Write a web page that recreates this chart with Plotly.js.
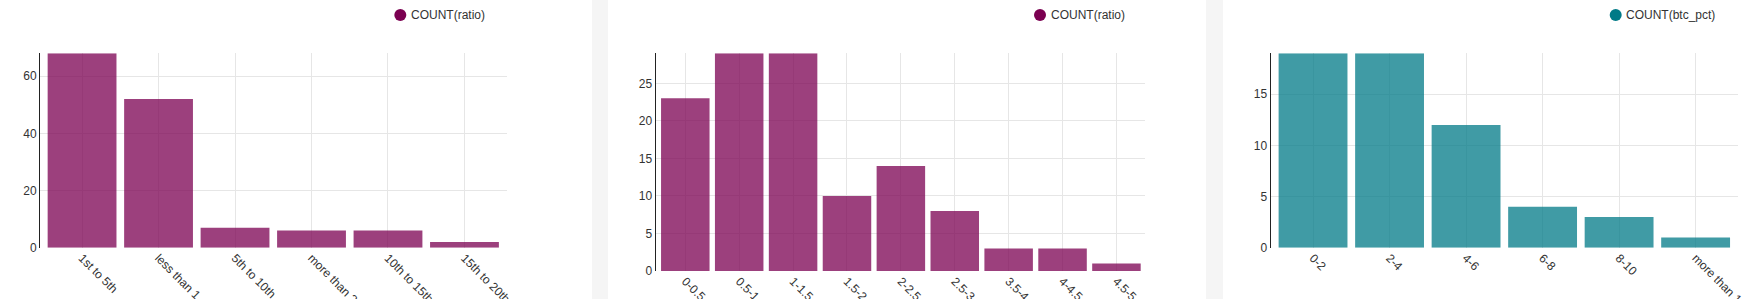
<!DOCTYPE html>
<html>
<head>
<meta charset="utf-8">
<script src="https://cdn.plot.ly/plotly-3.0.1.min.js"></script>
<style>
  html, body { margin: 0; padding: 0; background: #fff; }
  #chart { width: 1761px; height: 299px; }
</style>
</head>
<body>
<div id="chart"></div>
<script>
// Category labels and counts for the three histograms
const rankCategories = ["1st to 5th", "less than 1", "5th to 10th", "more than 2", "10th to 15th", "15th to 20th"];
const rankCounts = [68, 52, 7, 6, 6, 2];

const ratioCategories = ["0-0.5", "0.5-1", "1-1.5", "1.5-2", "2-2.5", "2.5-3", "3.5-4", "4-4.5", "4.5-5"];
const ratioCounts = [23, 29, 29, 10, 14, 8, 3, 3, 1];

const btcCategories = ["0-2", "2-4", "4-6", "6-8", "8-10", "more than 10"];
const btcCounts = [19, 19, 12, 4, 3, 1];

const seriesNames = ["COUNT(ratio)", "COUNT(ratio)", "COUNT(btc_pct)"];
const seriesColors = ["#7b0051", "#7b0051", "#007A87"];

const W = 1761, H = 299;
const px = v => v / W;          // horizontal pixel -> paper
const py = v => (H - v) / H;    // vertical pixel (from top) -> paper

const font = { family: "Liberation Sans, Arial, sans-serif", size: 12, color: "#333" };

function barTrace(cats, vals, color, xa, ya) {
  return {
    type: "bar", x: cats, y: vals, xaxis: xa, yaxis: ya,
    marker: { color: color, opacity: 0.75, line: { width: 0 } },
    showlegend: false, hoverinfo: "x+y"
  };
}

const data = [
  barTrace(rankCategories, rankCounts, seriesColors[0], "x", "y"),
  barTrace(ratioCategories, ratioCounts, seriesColors[1], "x2", "y2"),
  barTrace(btcCategories, btcCounts, seriesColors[2], "x3", "y3")
];

function xAxis(domain, range, anchor) {
  return {
    domain: domain, range: range, anchor: anchor, type: "category",
    showgrid: true, gridcolor: "#e6e6e6", gridwidth: 1,
    showline: false, zeroline: false, ticks: "",
    tickangle: 45, tickfont: font, fixedrange: true
  };
}
function yAxis(domain, range, dtick, anchor) {
  return {
    domain: domain, range: range, anchor: anchor, dtick: dtick,
    showgrid: true, gridcolor: "#e6e6e6", gridwidth: 1,
    showline: true, linecolor: "#222", linewidth: 1,
    zeroline: false, ticks: "", tickfont: font, fixedrange: true
  };
}

// Panel frames (in pixels): plot left/right and bottom
const panels = [
  { left: 40,     right: 507,    bottom: 247.7, range: [-0.55, 5.556],  ymax: 68, dtick: 20, legendDot: 400.3 },
  { left: 655.5,  right: 1145,   bottom: 271,   range: [-0.553, 8.53],  ymax: 29, dtick: 5,  legendDot: 1040 },
  { left: 1270.5, right: 1737.7, bottom: 247.7, range: [-0.556, 5.55],  ymax: 19, dtick: 5,  legendDot: 1615.7 }
];
const plotTop = 53.3;

const layout = {
  width: W, height: H,
  margin: { l: 0, r: 0, t: 0, b: 0 },
  paper_bgcolor: "#fff", plot_bgcolor: "rgba(0,0,0,0)",
  bargap: 0.1,
  font: font,
  showlegend: false,
  shapes: [],
  annotations: []
};

panels.forEach((p, i) => {
  const s = i === 0 ? "" : String(i + 1);
  layout["xaxis" + s] = xAxis([px(p.left), px(p.right)], p.range, "y" + s);
  layout["yaxis" + s] = yAxis([py(p.bottom), py(plotTop)], [0, p.ymax], p.dtick, "x" + s);

  // legend entry: round swatch + series name
  layout.shapes.push({
    type: "circle", xref: "paper", yref: "paper",
    x0: px(p.legendDot - 6), x1: px(p.legendDot + 6),
    y0: py(21), y1: py(9),
    fillcolor: seriesColors[i], line: { width: 0 }
  });
  layout.annotations.push({
    xref: "paper", yref: "paper", x: px(p.legendDot + 8.5), y: py(15),
    xanchor: "left", yanchor: "middle", showarrow: false,
    text: seriesNames[i], font: { family: font.family, size: 12, color: "#333" }
  });
});

// grey gutters between the dashboard panels
[[592, 608], [1206, 1223]].forEach(g => {
  layout.shapes.push({
    type: "rect", xref: "paper", yref: "paper", layer: "below",
    x0: px(g[0]), x1: px(g[1]), y0: 0, y1: 1,
    fillcolor: "#f5f5f5", line: { width: 0 }
  });
});

Plotly.newPlot("chart", data, layout, { displayModeBar: false, staticPlot: true });
</script>
</body>
</html>
